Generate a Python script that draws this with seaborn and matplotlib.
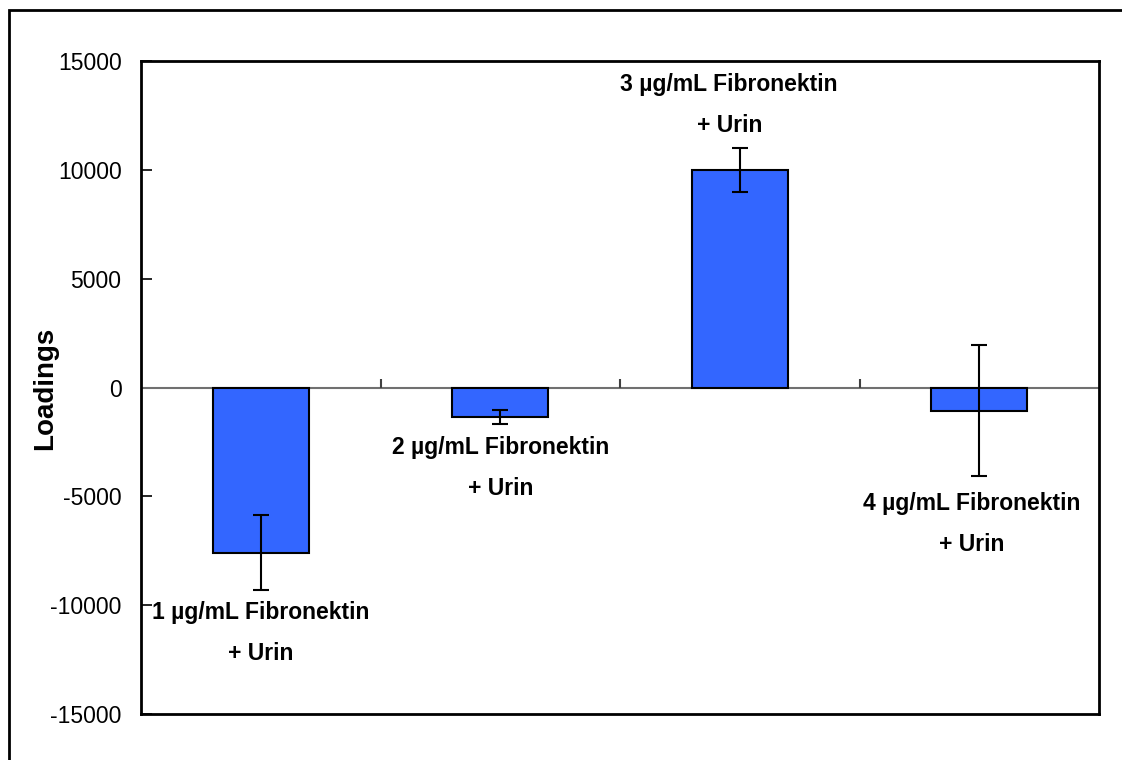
import matplotlib
matplotlib.use("Agg")
import matplotlib.pyplot as plt
import seaborn as sns
import pandas as pd
from matplotlib.patches import Rectangle

# ---- data ----
categories = ["1 µg/mL Fibronektin\n+ Urin", "2 µg/mL Fibronektin\n+ Urin",
              "3 µg/mL Fibronektin\n+ Urin", "4 µg/mL Fibronektin\n+ Urin"]
loadings = [-7600, -1370, 9980, -1060]
errors = [1720, 320, 1020, 3000]
yticks = [-15000, -10000, -5000, 0, 5000, 10000, 15000]
ylabel = "Loadings"

sns.set_theme(style="white")
plt.rcParams['font.family'] = ['Liberation Sans', 'DejaVu Sans']
plt.rcParams.update({"text.color": "black", "axes.labelcolor": "black",
                     "xtick.color": "black", "ytick.color": "black"})

df = pd.DataFrame({"cat": categories, "val": loadings})

fig = plt.figure(figsize=(11.22, 7.6), dpi=100)
ax = fig.add_axes([141/1122, 46/760, 958/1122, 653/760])

sns.barplot(data=df, x="cat", y="val", color="#3366FF", saturation=1,
            edgecolor="black", linewidth=1.5, width=0.4, errorbar=None, ax=ax, zorder=3)
ax.errorbar(range(len(categories)), loadings, yerr=errors, fmt="none",
            ecolor="black", elinewidth=1.5, capsize=6, capthick=1.5, zorder=4)

ax.axhline(0, color="#707070", lw=1.5, zorder=2)
ax.vlines([0.5, 1.5, 2.5], 0, 370, color="#404040", lw=1.5, zorder=2)

ax.set_ylim(-15000, 15000)
ax.set_xlim(-0.5, 3.5)
ax.set_yticks(yticks)
ax.set_yticklabels([str(t) for t in yticks], fontsize=16.5, color="black")
ax.tick_params(axis="y", direction="in", length=8, width=1.2, pad=14, left=True, color="black")
ax.set_xticks([])
ax.set_xlabel("")
ax.set_ylabel("")
for s in ax.spines.values():
    s.set_color("black")
    s.set_linewidth(2)

# data labels
label_pos = [(0.0, -11290), (1.0, -3720), (1.956, 12960), (2.97, -6270)]
for (x, y), txt in zip(label_pos, categories):
    ax.text(x, y, txt, ha="center", va="center", fontsize=16.5, fontweight="bold",
            linespacing=2.0, multialignment="center", color="black", zorder=5)

fig.text(45/1122, 1 - 388/760, ylabel, rotation=90, ha="center", va="center",
         fontsize=20, fontweight="bold", color="black")

# outer frame (left and top visible)
fig.patches.append(Rectangle((9/1122, -0.1), 1.2, (1 - 10/760) + 0.1,
                             transform=fig.transFigure, fill=False,
                             edgecolor="black", lw=2))

fig.savefig("out.png", dpi=100)
